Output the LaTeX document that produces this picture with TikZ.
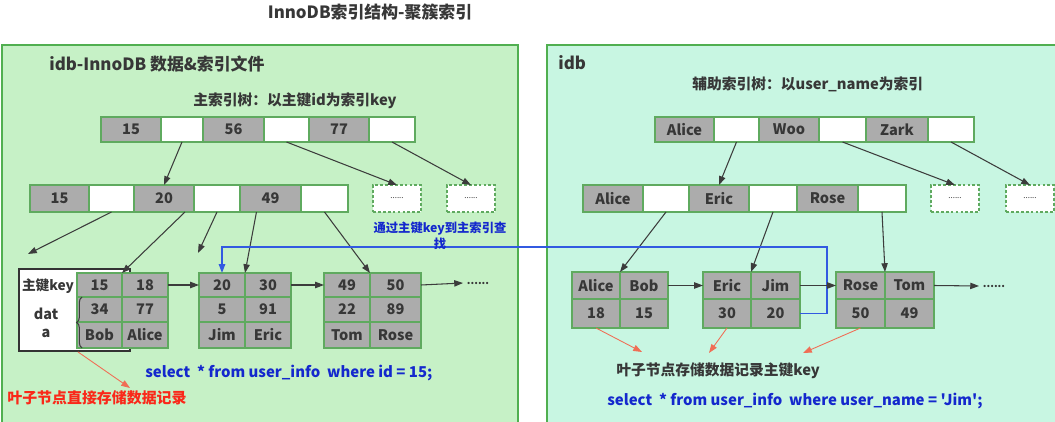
\documentclass[tikz,border=0pt]{standalone}
\usepackage{fontspec}
\setmainfont{Noto Sans CJK SC}
\newfontfamily\selfont{Noto Sans CJK SC}
\usetikzlibrary{arrows.meta,calc,decorations.pathreplacing}
\definecolor{leftbg}{RGB}{198,241,198}
\definecolor{rightbg}{RGB}{200,246,226}
\definecolor{panelb}{RGB}{80,175,80}
\definecolor{cellgray}{RGB}{172,172,172}
\definecolor{cellb}{RGB}{95,170,95}
\definecolor{txt}{RGB}{55,55,55}
\definecolor{arrowc}{RGB}{60,60,60}
\definecolor{bluec}{RGB}{20,40,205}
\definecolor{blueln}{RGB}{50,90,225}
\definecolor{redc}{RGB}{250,40,25}
\definecolor{redarrow}{RGB}{240,110,85}
\newcommand\Cell[7]{\node[#1,minimum width={(#5-#3)*0.02cm},minimum height={(#6-#4)*0.02cm}] (#2) at ({(#3+#5)/2},{(#4+#6)/2}) {#7};}
\begin{document}
\begin{tikzpicture}[x=0.02cm,y=-0.02cm,
  gcell/.style={draw=cellb,fill=cellgray,line width=0.8pt,inner sep=0pt,outer sep=0pt,text=txt,font=\fontsize{8.3}{9}\selectfont\bfseries},
  wcell/.style={gcell,fill=white},
  dbox/.style={gcell,fill=white,dashed,dash pattern=on 1.6pt off 1.2pt,font=\fontsize{4.5}{5}\selectfont},
  arr/.style={draw=arrowc,line width=0.6pt,-{Triangle[length=5pt,width=3.6pt]}},
  redarr/.style={draw=redarrow,line width=0.5pt,-{Triangle[length=5pt,width=3.6pt]}},
  blueline/.style={draw=blueln,line width=0.8pt,-{Triangle[length=5pt,width=3.6pt]}},
  lbl/.style={inner sep=0pt,text=txt,font=\fontsize{8.4}{10}\selectfont\bfseries},
  sel/.style={inner sep=0pt,text=bluec,font=\selfont\fontsize{8.5}{10}\selectfont\bfseries}]
\useasboundingbox (0,0) rectangle (1055,422);
\fill[white] (0,0) rectangle (1055,422);
% panels
\fill[leftbg] (2,45) rectangle (518,422);
\draw[panelb,line width=1pt] (2,422) -- (2,45) -- (518,45) -- (518,422);
\fill[rightbg] (547,45) rectangle (1055,422);
\draw[panelb,line width=1pt] (547,422) -- (547,45) -- (1055,45);
% titles
\node[lbl,font=\fontsize{9.6}{11}\selectfont\bfseries] (title) at (370,12) {InnoDB索引结构-聚簇索引};
\node[lbl,anchor=west,font=\fontsize{9.6}{11}\selectfont\bfseries] (ltitle) at (49,64) {idb-InnoDB 数据\&索引文件};
\node[lbl,anchor=west] (lsub) at (193,101) {主索引树：以主键id为索引key};
\node[lbl,anchor=west,font=\fontsize{9.6}{11}\selectfont\bfseries] (rtitle) at (558,63) {idb};
\node[lbl,anchor=west] (rsub) at (692,84) {辅助索引树：以user\_name为索引};
% left top row
\Cell{gcell}{a15}{101}{117}{161}{142}{15}
\Cell{wcell}{aw1}{161}{117}{203}{142}{}
\Cell{gcell}{a56}{203}{117}{264}{142}{56}
\Cell{wcell}{aw2}{264}{117}{309}{142}{}
\Cell{gcell}{a77}{309}{117}{369}{142}{77}
\Cell{wcell}{aw3}{369}{117}{415}{142}{}
% left second row
\Cell{gcell}{b15}{30}{185}{89}{212}{15}
\Cell{wcell}{bw1}{89}{185}{134}{212}{}
\Cell{gcell}{b20}{134}{185}{194}{212}{20}
\Cell{wcell}{bw2}{194}{185}{240}{212}{}
\Cell{gcell}{b49}{240}{185}{301}{212}{49}
\Cell{wcell}{bw3}{301}{185}{348}{212}{}
\Cell{dbox}{bd1}{373}{185}{421}{212}{......}
\Cell{dbox}{bd2}{447}{185}{495}{212}{......}
% left leaf 1 with label box
\node[draw=black!80,fill=white,line width=1pt,minimum width={111*0.02cm},minimum height={82*0.02cm},inner sep=0pt] (lbox) at (74.5,310) {};
\node[lbl,font=\fontsize{7.8}{9}\selectfont\bfseries] (pk) at (48,286) {主键key};
\node[lbl,align=center,font=\fontsize{8.2}{10.5}\selectfont\bfseries] (dat) at (46,323) {dat\\a};
\Cell{gcell}{l15}{77}{273}{122}{297}{15}
\Cell{gcell}{l18}{122}{273}{168}{297}{18}
\Cell{gcell}{l34}{77}{297}{122}{322}{34}
\Cell{gcell}{l77}{122}{297}{168}{322}{77}
\Cell{gcell}{lbob}{77}{322}{122}{348}{Bob}
\Cell{gcell}{lalice}{122}{322}{168}{348}{Alice}
\draw[arrowc,line width=0.6pt,decorate,decoration={brace,amplitude=3pt}] (82,348) -- (82,297);
% left leaf 2
\Cell{gcell}{l20}{199}{273}{245}{297}{20}
\Cell{gcell}{l30}{245}{273}{291}{297}{30}
\Cell{gcell}{l5}{199}{297}{245}{322}{5}
\Cell{gcell}{l91}{245}{297}{291}{322}{91}
\Cell{gcell}{ljim}{199}{322}{245}{348}{Jim}
\Cell{gcell}{leric}{245}{322}{291}{348}{Eric}
% left leaf 3
\Cell{gcell}{l49}{324}{273}{370}{297}{49}
\Cell{gcell}{l50}{370}{273}{421}{297}{50}
\Cell{gcell}{l22}{324}{297}{370}{322}{22}
\Cell{gcell}{l89}{370}{297}{421}{322}{89}
\Cell{gcell}{ltom}{324}{322}{370}{348}{Tom}
\Cell{gcell}{lrose}{370}{322}{421}{348}{Rose}
\node[lbl,font=\fontsize{6}{7}\selectfont\bfseries,inner sep=2pt] (dotsL) at (478,283) {......};
% right top row
\Cell{gcell}{calice}{655}{117}{714}{142}{Alice}
\Cell{wcell}{cw1}{714}{117}{759}{142}{}
\Cell{gcell}{cwoo}{759}{117}{819}{142}{Woo}
\Cell{wcell}{cw2}{819}{117}{866}{142}{}
\Cell{gcell}{czark}{866}{117}{928}{142}{Zark}
\Cell{wcell}{cw3}{928}{117}{974}{142}{}
% right second row
\Cell{gcell}{dalice}{583}{185}{643}{212}{Alice}
\Cell{wcell}{dw1}{643}{185}{689}{212}{}
\Cell{gcell}{deric}{689}{185}{749}{212}{Eric}
\Cell{wcell}{dw2}{749}{185}{797}{212}{}
\Cell{gcell}{drose}{797}{185}{858}{212}{Rose}
\Cell{wcell}{dw3}{858}{185}{906}{212}{}
\Cell{dbox}{dd1}{931}{185}{979}{212}{......}
\Cell{dbox}{dd2}{1006}{185}{1054}{212}{......}
% right leaves
\Cell{gcell}{ralice}{572}{272}{620}{299}{Alice}
\Cell{gcell}{rbob}{620}{272}{668}{299}{Bob}
\Cell{gcell}{r18}{572}{299}{620}{328}{18}
\Cell{gcell}{r15}{620}{299}{668}{328}{15}
\Cell{gcell}{reric}{703}{272}{751}{299}{Eric}
\Cell{gcell}{rjim}{751}{272}{800}{299}{Jim}
\Cell{gcell}{r30}{703}{299}{751}{328}{30}
\Cell{gcell}{r20}{751}{299}{800}{328}{20}
\Cell{gcell}{rrose}{836}{272}{885}{299}{Rose}
\Cell{gcell}{rtom}{885}{272}{934}{299}{Tom}
\Cell{gcell}{r50}{836}{299}{885}{328}{50}
\Cell{gcell}{r49}{885}{299}{934}{328}{49}
\node[lbl,font=\fontsize{6}{7}\selectfont\bfseries,inner sep=2pt] (dotsR) at (994,286) {......};
% free arrow ends
\coordinate (pA) at (28,254);
\coordinate (pB) at (198,253);
\coordinate (bturn) at (827,247);
\coordinate (qL) at (130,388);
\coordinate (q1) at (642,352);
\coordinate (q2) at (709,353);
\coordinate (q3) at (803,353);
% left tree arrows
\draw[arr] (aw1.south) -- (b20.north);
\draw[arr] (aw2.south) -- (bd1.north);
\draw[arr] (aw3.south) -- (bd2.north);
\draw[arr] (bw1.south) -- (pA);
\draw[arr] ($(b20.south west)!0.85!(b20.south east)$) -- (l18.north west);
\draw[arr] (bw2.south) -- (pB);
\draw[arr] ($(b49.south west)!0.27!(b49.south east)$) -- (l30.north west);
\draw[arr] (bw3.south) -- (l50.north west);
\draw[arr] (l18.east) -- (l20.west);
\draw[arr] (l30.east) -- (l49.west);
\draw[arr] (l50.east) -- (dotsL.west);
% right tree arrows
\draw[arr] (cw1.south) -- (deric.north);
\draw[arr] (cw2.south) -- (dd1.north);
\draw[arr] (cw3.south) -- (dd2.north);
\draw[arr] (dw1.south) -- (rbob.north west);
\draw[arr] (dw2.south) -- (rjim.north west);
\draw[arr] (dw3.south) -- (rtom.north west);
% blue lookup line
\draw[blueline] (r20.east) -| (bturn) -- (l20.north |- bturn) -- (l20.north);
\draw[arr] (rbob.east) -- (reric.west);
\draw[arr] (rjim.east) -- (rrose.west);
\draw[arr] (rtom.east) -- (dotsR.west);
% red arrows
\draw[redarr] ($(lbox.south west)!0.53!(lbox.south east)$) -- (qL);
\draw[redarr] (r18.south) -- (q1);
\draw[redarr] (r30.south) -- (q2);
\draw[redarr] (r50.south) -- (q3);
% notes
\node[align=center,inner sep=0pt,text=bluec,font=\fontsize{7}{9}\selectfont\bfseries] (note) at (440,236) {通过主键key到主索引查\\找};
\node[sel,anchor=west] (selL) at (145,373) {select~ * from user\_info~ where id = 15;};
\node[inner sep=0pt,anchor=west,text=redc,font=\fontsize{8.5}{10}\selectfont\bfseries] (redtxt) at (7,398) {叶子节点直接存储数据记录};
\node[lbl,anchor=west] (leaftxt) at (616,371) {叶子节点存储数据记录主键key};
\node[sel,anchor=west] (selR) at (607,401) {select~ * from user\_info~ where user\_name = 'Jim';};
\end{tikzpicture}
\end{document}
